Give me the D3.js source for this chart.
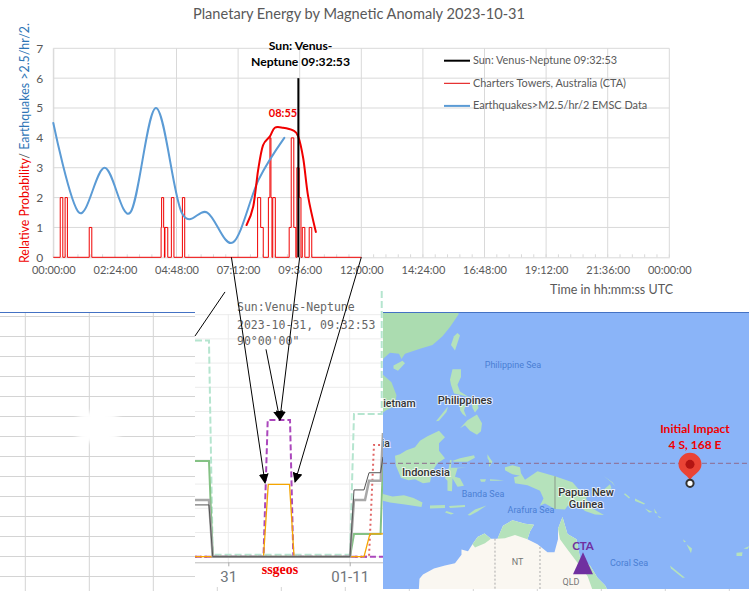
<!DOCTYPE html>
<html>
<head>
<meta charset="utf-8">
<script src="https://cdn.jsdelivr.net/npm/d3@7"></script>
<style>
body { margin: 0; background: #fff; }
svg { display: block; }
text { font-family: Lato, "Open Sans", sans-serif; }
.maplabel { paint-order: stroke; stroke: #fff; stroke-width: 2px; stroke-opacity: .75; font-weight: 500; }
</style>
</head>
<body>
<div id="chart"></div>
<script>
// main chart data, x in hours of the day
var xTickLabels = ["00:00:00","02:24:00","04:48:00","07:12:00","09:36:00","12:00:00","14:24:00","16:48:00","19:12:00","21:36:00","00:00:00"];
var yTicks = [0,1,2,3,4,5,6,7];

var ctaHours = [0,0.27,0.37,0.46,0.55,1.40,1.50,4.20,4.22,4.30,4.33,4.35,4.46,4.60,4.70,5.03,5.12,7.96,8.08,8.18,8.38,8.44,8.48,8.52,8.55,8.65,9.19,9.27,9.37,9.45,9.49,9.58,9.65,9.70,9.80,9.97,10.07,12];
var ctaValues = [0,2,0,2,0,1,0,1,2,1,0,1,0,2,0,2,0,2,1,0,2,4,2,0,2,0,1,4,1,0,3,2,0,1,0,1,0,0];

var quakeHours = [0,1,2,3,4,5,6,7,8,9];
var quakeValues = [4.5,1.5,3,1.5,5,1.5,1.5,0.5,2.6,4];

var probHours = [7.53,7.79,7.98,8.17,8.44,8.63,8.95,9.34,9.54,9.74,9.93,10.23];
var probValues = [1.08,1.7,2.92,3.75,4.05,4.34,4.34,4.25,4.05,3.3,2.03,0.85];

var aspectHour = 9.548;
var aspectValues = [0,6];

var legendLabels = ["Sun: Venus-Neptune 09:32:53","Charters Towers, Australia (CTA)","Earthquakes>M2.5/hr/2 EMSC Data"];
var legendColors = ["#000","#e00000","#5b9bd5"];
var legendWidths = [2,1,2];

// lower panel data, x in hours from 31 Oct 00:00
var lowHoursLightGreen = [-6.58,-3.82,-3.08,24.06,24.85,30.33,30.33];
var lowValuesLightGreen = [8.93,8.93,0.08,0.08,5.9,5.9,11];
var lowHoursGreen = [-6.58,-3.82,-3.08,24.06,24.85,30.1,30.58];
var lowValuesGreen = [3.95,3.95,0,0,0.94,0.94,3.95];
var lowHoursPurple = [-6.58,6.96,7.79,12.2,12.85,30.58];
var lowValuesPurple = [0,0,5.65,5.65,0,0];
var lowHoursDotted = [-6.58,27.82,28.8,30.1];
var lowValuesDotted = [0,0,4.62,4.62];
var lowHoursOrange = [-6.58,6.96,7.9,12.1,13.0,26.83,28,30.58];
var lowValuesOrange = [0,0,2.99,2.99,0,0,0.94,0.94];
var lowHoursGrey = [-6.58,-3.82,-3.08,24.06,24.85,27.03,27.82,30.13,30.58];
var lowValuesGrey = [2.34,2.34,0,0,2.34,2.34,3.14,3.14,5.11];
var lowHoursDark = [-6.58,-3.82,-3.08,24.06,24.85,26.83,27.82,30.1,30.58];
var lowValuesDark = [2.14,2.14,0,0,2.76,2.76,3.47,3.47,4.12];
var lowGrid = [0,1,2,3,4,5,6,7,8,9,10];

// map data, lon/lat
var asia = [[100,35],[122.5,35],[121.8,30],[121.7,28.5],[120,26.3],[118.5,24.6],[116.5,23],[114,22.3],[111,21.4],[110.3,20.4],[109.8,21.4],[108,21.6],[106.8,20.6],[105.8,19],[106.5,17.5],[108.3,16],[109.3,13.5],[109,11.5],[107,10.4],[105,8.7],[104.8,10.5],[100,13]];
var islands = [
  [[121.5,25.2],[122,24.8],[121,22],[120.2,23],[120.8,24.6]],
  [[108.7,19.2],[110.5,20.1],[111,19.6],[109.6,18.2],[108.7,18.6]],
  [[120.5,18.5],[122.2,18.5],[122.2,17],[121.5,15.5],[122,14.2],[124,13],[123.5,13.2],[122,13.6],[120.8,13.8],[120.2,15.5],[120,16.5]],
  [[120.4,13.4],[121.4,13.3],[121.3,12.3],[120.8,12.6]],
  [[117.2,8.4],[119.6,11.3],[119.3,10.2],[117.8,8.5]],
  [[122,11.8],[123.1,11.5],[122.8,10.5],[123.3,9.2],[122.5,9.8],[122,10.6]],
  [[124.3,12.5],[125.5,12.2],[125.7,11],[125,10.1],[124.5,11]],
  [[122,7],[123.5,8.6],[125.4,9.7],[126.4,8],[126.2,6.4],[125.4,5.7],[124,6.5],[123,7.6]],
  [[109,1.5],[110,1.8],[111.3,2.6],[113,3.2],[114,4.5],[115.5,5.4],[117.8,6.5],[119,5.2],[117.8,4],[117.8,2.5],[119,1],[117.5,0],[116.5,-1.5],[116,-3.8],[114.6,-4],[113,-3.2],[111.7,-3.4],[110.2,-2.9],[109.2,-0.5]],
  [[119.5,-5.5],[120.4,-5.6],[120.5,-3],[121.5,-4.7],[122.8,-4.5],[122,-3],[121,-2.7],[121.5,-1],[123.3,-0.9],[121.5,-0.9],[120.2,-0.9],[120.3,0.4],[122,1],[124.8,1.6],[125,1.1],[123.5,0.3],[120.8,0.3],[120,0.7],[119.8,-0.8],[119,-3],[119.5,-3.5]],
  [[106,-6],[108.5,-6.6],[110.8,-6.4],[112.7,-6.9],[114.5,-7.8],[114.3,-8.7],[111,-8.2],[108,-7.8],[106.3,-7.4]],
  [[116,-8.4],[119,-8.3],[119,-8.9],[116,-9]],
  [[119.8,-8.5],[123,-8.3],[123,-8.7],[120,-8.9]],
  [[119.3,-9.5],[120.8,-10],[120.2,-10.2],[119,-9.8]],
  [[123.5,-10.3],[125,-9.2],[127.3,-8.4],[125.5,-9.6],[124,-10.4]],
  [[128,-3.2],[130.8,-3.4],[129.5,-3.5],[128,-3.5]],
  [[126,-3.2],[127.2,-3.2],[127,-3.7],[126.2,-3.7]],
  [[127.5,1.8],[128,1],[128.5,0.3],[127.8,-0.8],[127.8,0.5],[127.5,1]],
  [[131,-0.8],[132.5,-0.4],[134,-0.8],[134.2,-2],[135,-3.3],[137.5,-1.6],[141,-2.6],[144.5,-3.8],[146,-5.5],[147.8,-6],[147.2,-7],[148.5,-9],[150.8,-10.3],[149,-10.2],[147,-9.5],[145,-7.8],[143.5,-8.5],[143,-9.2],[141,-9.1],[139,-8],[138,-8.4],[138.7,-7],[138,-5.5],[135.5,-4.4],[133,-4],[132.8,-2.8],[134,-2.5],[132.5,-2.2],[131,-1.4]],
  [[148.5,-5.6],[150.5,-5.5],[152,-4.2],[152.3,-5],[150.5,-6.2],[149,-6.2]],
  [[150.8,-2.6],[152.5,-3.8],[153,-4.6],[152.3,-3.8]],
  [[155,-6],[156,-6.8],[155.8,-7],[154.8,-6.2]],
  [[157,-7],[159,-8],[158.8,-8.2],[157,-7.5]],
  [[159,-9],[160.5,-9.7],[159.8,-9.8]],
  [[160.8,-9],[161.5,-10],[161,-9.9]],
  [[161.5,-10.4],[162.3,-10.8],[161.8,-10.8]],
  [[166.6,-15],[167.2,-15.5],[166.8,-15.6]],
  [[167.3,-16],[168.2,-17.7],[168.4,-16.8]],
  [[164,-20],[167,-22.3],[166.5,-22.3],[164.2,-20.6]],
  [[177.3,-17.6],[178.5,-17.5],[178.4,-18.2],[177.3,-18.2]],
  [[178.7,-16.8],[179.9,-16.3],[179.5,-16.9]]
];
var australia = [[113.6,-27],[113.9,-22.5],[114.6,-21.7],[116.8,-20.6],[119,-20],[121,-19.6],[122.3,-18],[122.3,-17],[123.6,-17.3],[124.5,-16],[125.5,-14.6],[126.9,-13.9],[128.2,-14.9],[129.5,-14.9],[130.6,-12.4],[132.5,-11.3],[135,-12],[136.8,-12.2],[136,-13.5],[135.5,-15],[137.5,-16],[139.5,-17.5],[140.9,-17.5],[141.6,-15],[141.6,-13],[142.5,-10.7],[143.5,-14],[145.3,-15],[146,-18.5],[148,-20],[149.5,-22.3],[151,-23.7],[153,-27]];
var ausGreen = [
  [[129.5,-14.9],[130.6,-12.4],[132.5,-11.3],[135,-12],[136.8,-12.2],[136,-13.5],[135.5,-15],[133,-14.2],[131,-14.8]],
  [[124.5,-16],[125.5,-14.6],[126.9,-13.9],[128.2,-14.9],[127,-15.8],[125,-16.6]],
  [[142.5,-10.7],[143.5,-14],[145.3,-15],[146,-18.5],[148,-20],[149.5,-22.3],[151,-23.7],[153,-27],[149.5,-27],[147.5,-22],[145.5,-19.5],[143.5,-17],[142,-15],[141.6,-13]]
];
var stateBorders = [[[129,-14.9],[129,-27]],[[138,-16.5],[138,-27]]];
var pngBorder = [[141,-2.6],[141,-9.1]];
var equator = [[100,0],[180,0]];
var impact = [168,-4];
var cta = [146.3,-20.1];

var mapLabels = [
  ["Philippine Sea",132.6,18.7,"#4a7fd4",9,"normal"],
  ["Vietnam",109.2,11.2,"#333",10.5,"bold"],
  ["Philippines",123,11.8,"#333",11,"bold"],
  ["Malaysia",103.8,3.2,"#333",10.5,"bold"],
  ["Indonesia",115.2,-2.5,"#333",11,"bold"],
  ["Banda Sea",126.6,-6.8,"#4a7fd4",9,"normal"],
  ["Arafura Sea",136.2,-9.8,"#4a7fd4",9,"normal"],
  ["Papua New",147.2,-6.6,"#333",11,"bold"],
  ["Guinea",147.2,-9,"#333",11,"bold"],
  ["Coral Sea",155.8,-20.1,"#4a7fd4",9,"normal"],
  ["NT",133.5,-20,"#777",9,"normal"],
  ["QLD",144.2,-23.6,"#777",9,"normal"]
];

var sheetColumns = [25.3,89.3,153.3];
var sheetRows = d3.range(316,577,20);

var width = 749, height = 591;
var svg = d3.select("#chart").append("svg").attr("width", width).attr("height", height);

// main scales
var x = d3.scaleLinear().domain([0,24]).range([53.3,669.3]);
var y = d3.scaleLinear().domain([0,7]).range([257.3,48.3]);

// spreadsheet left of the panels
var sheet = svg.append("g").attr("stroke", "#d4d4d4");
sheet.selectAll(".r").data(sheetRows).enter().append("line")
    .attr("x1",0).attr("x2",195).attr("y1",d=>d+.5).attr("y2",d=>d+.5);
sheet.selectAll(".c").data(sheetColumns).enter().append("line")
    .attr("x1",d=>d).attr("x2",d=>d).attr("y1",313).attr("y2",591);
svg.append("defs").append("filter").attr("id","soft")
    .attr("x","-20%").attr("y","-20%").attr("width","140%").attr("height","140%")
    .append("feGaussianBlur").attr("stdDeviation",2);
svg.append("ellipse").attr("cx",98).attr("cy",427).attr("rx",26).attr("ry",16)
    .attr("fill","#fff").attr("filter","url(#soft)");
svg.append("line").attr("x1",0).attr("x2",195).attr("y1",312.5).attr("y2",312.5).attr("stroke","#4472c4");
// spreadsheet ticks showing under the other panels
svg.selectAll(".stub").data(d3.range(217.3,749,64)).enter().append("line")
    .attr("x1",d=>d).attr("x2",d=>d).attr("y1",587).attr("y2",591).attr("stroke","#d4d4d4");

// lower panel
var lowX = d3.scaleLinear().domain([0,24]).range([228.3,349.7]);
var lowY = d3.scaleLinear().domain([0,10]).range([556.7,314.7]);
var low = svg.append("g");
svg.select("defs").append("clipPath").attr("id","lowclip").append("rect")
    .attr("x",195).attr("y",288).attr("width",188).attr("height",275);

low.selectAll(".grid").data(lowGrid).enter().append("line")
    .attr("x1",195).attr("x2",383).attr("y1",d=>lowY(d)).attr("y2",d=>lowY(d))
    .attr("stroke","#ececec");
low.selectAll(".vgrid").data([0,24]).enter().append("line")
    .attr("x1",d=>lowX(d)).attr("x2",d=>lowX(d)).attr("y1",314).attr("y2",562)
    .attr("stroke","#ececec");

var lowLine = d3.line().x(d=>lowX(d[0])).y(d=>lowY(d[1]));
function lowSeries(hours, values, color, w, dash) {
    low.append("path").datum(d3.zip(hours, values))
        .attr("d", lowLine).attr("fill","none")
        .attr("stroke",color).attr("stroke-width",w)
        .attr("stroke-dasharray",dash || null)
        .attr("clip-path","url(#lowclip)");
}
lowSeries(lowHoursLightGreen, lowValuesLightGreen, "#b5e5cf", 2, "7 3");
lowSeries(lowHoursGreen, lowValuesGreen, "#85c285", 2);
lowSeries(lowHoursDotted, lowValuesDotted, "#e06666", 2, "2 3");
lowSeries(lowHoursPurple, lowValuesPurple, "#ab47bc", 2, "6 3");
lowSeries(lowHoursOrange, lowValuesOrange, "#f5a500", 1.3);
lowSeries(lowHoursGrey, lowValuesGrey, "#a8a8a8", 2.5);
lowSeries(lowHoursDark, lowValuesDark, "#555", 1);

// bottom axis of lower panel
var lowAxis = d3.axisBottom(lowX).tickValues([0,24]).tickFormat(d => d ? "01-11" : "31").tickSize(4).tickPadding(5);
var lowG = low.append("g").attr("transform","translate(0,562.3)").call(lowAxis);
lowG.select(".domain").attr("stroke","#bbb").attr("d","M195,0.5H383");
lowG.selectAll(".tick line").attr("stroke","#aaa");
lowG.selectAll("text").attr("font-size",15).attr("fill","#70757a").style("font-family","Roboto");

low.append("text").attr("x",280).attr("y",574).attr("text-anchor","middle")
    .attr("fill","#f00000").attr("font-size",14).attr("font-weight","bold")
    .style("font-family","'Liberation Serif'").text("ssgeos");

var noteLines = ["Sun:Venus-Neptune","2023-10-31, 09:32:53","90°00'00\""];
low.selectAll(".note").data(noteLines).enter().append("text")
    .attr("x",237).attr("y",(d,i)=>[311,329,345][i])
    .attr("fill","#666").attr("font-size",11.5)
    .style("font-family","'DejaVu Sans Mono'").text(d=>d);

// map
var projection = d3.geoMercator().scale(286.5).center([168,0]).translate([690,463.3]);
svg.select("defs").append("clipPath").attr("id","mapclip").append("rect")
    .attr("x",383).attr("y",313).attr("width",366).attr("height",276);
var map = svg.append("g").attr("clip-path","url(#mapclip)");
map.append("rect").attr("x",383).attr("y",313).attr("width",366).attr("height",276).attr("fill","#8ab4f8");
var mapLine = d3.line().x(d=>projection(d)[0]).y(d=>projection(d)[1]);
var landColor = "#b5e2bb";
map.append("path").attr("d",mapLine(asia)+"Z").attr("fill","#abdcb0");
map.selectAll(".island").data(islands).enter().append("path")
    .attr("d",d=>mapLine(d)+"Z").attr("fill",landColor);
map.append("path").attr("d",mapLine(australia)+"Z").attr("fill","#faf7f1");
map.selectAll(".ausgreen").data(ausGreen).enter().append("path")
    .attr("d",d=>mapLine(d)+"Z").attr("fill",landColor);
map.selectAll(".state").data(stateBorders).enter().append("path")
    .attr("d",mapLine).attr("fill","none").attr("stroke","#aaa").attr("stroke-dasharray","2 2");
map.append("path").attr("d",mapLine(pngBorder)).attr("stroke","#8a9a8a").attr("fill","none");
map.append("path").attr("d",mapLine(equator)).attr("fill","none")
    .attr("stroke","#8e6a8e").attr("stroke-dasharray","5 3");
map.selectAll(".label").data(mapLabels).enter().append("text")
    .attr("class",d=>d[5]=="bold" ? "maplabel" : null)
    .attr("x",d=>projection([d[1],d[2]])[0]).attr("y",d=>projection([d[1],d[2]])[1])
    .attr("text-anchor","middle").attr("fill",d=>d[3]).attr("font-size",d=>d[4])
    .style("font-family","Roboto").text(d=>d[0]);

// pin at the impact point
var pinPt = projection(impact);
map.append("path")
    .attr("d",`M${pinPt[0]},${pinPt[1]-3}C${pinPt[0]-3},${pinPt[1]-9} ${pinPt[0]-11.5},${pinPt[1]-11} ${pinPt[0]-11.5},${pinPt[1]-19}A11.5,11.5 0 1 1 ${pinPt[0]+11.5},${pinPt[1]-19}C${pinPt[0]+11.5},${pinPt[1]-11} ${pinPt[0]+3},${pinPt[1]-9} ${pinPt[0]},${pinPt[1]-3}Z`)
    .attr("fill","#ea4335");
map.append("circle").attr("cx",pinPt[0]).attr("cy",pinPt[1]-19).attr("r",4.5).attr("fill","#b31412");
map.append("circle").attr("cx",pinPt[0]).attr("cy",pinPt[1]).attr("r",3.6).attr("fill","#fff").attr("stroke","#333").attr("stroke-width",2);
map.selectAll(".impact").data(["Initial Impact","4 S, 168 E"]).enter().append("text")
    .attr("x",pinPt[0]+5).attr("y",(d,i)=>pinPt[1]-50+i*16)
    .attr("text-anchor","middle").attr("fill","#f00000").attr("font-size",12).attr("font-weight","bold").text(d=>d);

// CTA triangle
var ctaPt = projection(cta);
map.append("path").attr("d",d3.symbol().type(d3.symbolTriangle).size(173)())
    .attr("transform",`translate(${ctaPt[0]+1.5},${ctaPt[1]+1}) scale(1,1.27)`).attr("fill","#7030a0");
map.append("text").attr("x",ctaPt[0]+1.5).attr("y",ctaPt[1]-16).attr("text-anchor","middle")
    .attr("fill","#7030a0").attr("font-size",11.5).attr("font-weight","bold").text("CTA");
svg.append("line").attr("x1",383).attr("x2",749).attr("y1",312.5).attr("y2",312.5).attr("stroke","#4472c4");

// main chart
var chart = svg.append("g");
chart.selectAll(".hgrid").data(yTicks.slice(1)).enter().append("line")
    .attr("x1",x(0)).attr("x2",x(24)).attr("y1",d=>y(d)).attr("y2",d=>y(d)).attr("stroke","#d9d9d9");
chart.selectAll(".vgrid").data(xTickLabels.map((d,i)=>i*2.4)).enter().append("line")
    .attr("x1",d=>x(d)).attr("x2",d=>x(d)).attr("y1",y(7)).attr("y2",y(0)).attr("stroke","#d9d9d9");

var xAxis = d3.axisBottom(x).tickValues(xTickLabels.map((d,i)=>i*2.4))
    .tickFormat((d,i)=>xTickLabels[i]).tickSize(0).tickPadding(9);
var xG = chart.append("g").attr("transform",`translate(0,${y(0)})`).call(xAxis);
xG.select(".domain").attr("stroke","#d9d9d9");
xG.selectAll("text").attr("font-size",11).attr("fill","#595959").style("font-family","Lato");
// minor ticks pointing up
chart.selectAll(".minor").data(d3.range(0,24.01,0.48)).enter().append("line")
    .attr("x1",d=>x(d)).attr("x2",d=>x(d)).attr("y1",y(0)-3).attr("y2",y(0)).attr("stroke","#d9d9d9");

var yAxis = d3.axisLeft(y).tickValues(yTicks).tickFormat(d3.format("d")).tickSize(0).tickPadding(10);
var yG = chart.append("g").attr("transform",`translate(${x(0)},0)`).call(yAxis);
yG.select(".domain").attr("stroke","#d9d9d9");
yG.selectAll("text").attr("font-size",12).attr("fill","#595959").style("font-family","Lato");

chart.append("path").datum(d3.zip(ctaHours, ctaValues))
    .attr("d", d3.line().x(d=>x(d[0])).y(d=>y(d[1])).curve(d3.curveStepAfter))
    .attr("fill","none").attr("stroke","#f00000").attr("stroke-width",1);

var smooth = d3.line().x(d=>x(d[0])).y(d=>y(d[1])).curve(d3.curveCardinal.tension(0));
chart.append("path").datum(d3.zip(quakeHours, quakeValues))
    .attr("d", smooth).attr("fill","none").attr("stroke","#5b9bd5").attr("stroke-width",2).attr("stroke-linecap","round");
chart.append("path").datum(d3.zip(probHours, probValues))
    .attr("d", smooth).attr("fill","none").attr("stroke","#f00000").attr("stroke-width",2).attr("stroke-linecap","round");
chart.append("line").attr("x1",x(aspectHour)).attr("x2",x(aspectHour))
    .attr("y1",y(aspectValues[0])).attr("y2",y(aspectValues[1])).attr("stroke","#000").attr("stroke-width",2);

chart.selectAll(".alabel").data(["Sun: Venus-","Neptune 09:32:53"]).enter().append("text")
    .attr("x",300.5).attr("y",(d,i)=>50+i*16).attr("text-anchor","middle")
    .attr("fill","#000").attr("font-size",12.2).attr("font-weight","bold").text(d=>d);
chart.append("text").attr("x",x(8.95)).attr("y",117).attr("text-anchor","middle")
    .attr("fill","#f00000").attr("font-size",11).attr("font-weight","bold").text("08:55");

svg.append("text").attr("x",359).attr("y",19).attr("text-anchor","middle")
    .attr("fill","#595959").attr("font-size",14.6).text("Planetary Energy by Magnetic Anomaly 2023-10-31");
svg.append("text").attr("x",673).attr("y",294).attr("text-anchor","end")
    .attr("fill","#595959").attr("font-size",12.5).text("Time in hh:mm:ss UTC");

var yTitle = svg.append("text").attr("transform","translate(29,263) rotate(-90)").attr("font-size",12.4);
yTitle.append("tspan").attr("fill","#f00000").text("Relative Probability");
yTitle.append("tspan").attr("fill","#595959").text("/ ");
yTitle.append("tspan").attr("fill","#2e75b6").text("Earthquakes >2.5/hr/2.");

var legend = svg.selectAll(".legend").data(legendLabels).enter().append("g")
    .attr("transform",(d,i)=>`translate(444,${60.7+i*22.6})`);
legend.append("line").attr("x2",26).attr("stroke",(d,i)=>legendColors[i]).attr("stroke-width",(d,i)=>legendWidths[i]);
legend.append("text").attr("x",29).attr("y",3.5).attr("font-size",10.9).attr("fill","#595959").text(d=>d);

// annotation arrows, each from a point on the main chart or note to a point in the lower panel
var arrowFromHours = [6.94,9.6,12];
var arrowToHours = [7.26,10.18,13.19];
var arrowToValues = [3.05,5.65,3.09];
var noteArrowFrom = [7.45,8.57];
var noteArrowTo = [10.2,5.65];
var stubFrom = [-0.65,10.94];
var stubTo = [-6.58,9.12];

svg.select("defs").append("marker").attr("id","head")
    .attr("viewBox","0 0 10 10").attr("refX",9).attr("refY",5)
    .attr("markerWidth",10).attr("markerHeight",10).attr("markerUnits","userSpaceOnUse")
    .attr("orient","auto").append("path").attr("d","M0,0L10,5L0,10Z");
var arrows = svg.append("g").attr("stroke","#000").attr("stroke-width",1);
arrows.selectAll(".arrow").data(arrowFromHours).enter().append("line")
    .attr("x1",d=>x(d)).attr("y1",y(0))
    .attr("x2",(d,i)=>lowX(arrowToHours[i])).attr("y2",(d,i)=>lowY(arrowToValues[i]))
    .attr("marker-end","url(#head)");
arrows.append("line").attr("x1",lowX(noteArrowFrom[0])).attr("y1",lowY(noteArrowFrom[1]))
    .attr("x2",lowX(noteArrowTo[0])).attr("y2",lowY(noteArrowTo[1])).attr("marker-end","url(#head)");
arrows.append("line").attr("x1",lowX(stubFrom[0])).attr("y1",lowY(stubFrom[1]))
    .attr("x2",lowX(stubTo[0])).attr("y2",lowY(stubTo[1]));
</script>
</body>
</html>
